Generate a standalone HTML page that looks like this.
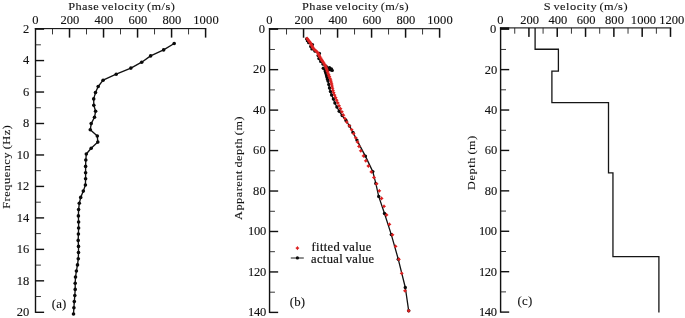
<!DOCTYPE html>
<html><head><meta charset="utf-8"><title>Phase velocity and S velocity profiles</title>
<style>html,body{margin:0;padding:0;background:#fff}svg{display:block}text{font-family:"Liberation Serif",serif;fill:#111}</style>
</head><body>
<svg width="685" height="318" viewBox="0 0 685 318">
<rect width="685" height="318" fill="#fff"/>
<rect x="34.80" y="28.05" width="1.40" height="284.85" fill="#111"/>
<rect x="34.80" y="28.05" width="171.50" height="1.10" fill="#111"/>
<rect x="52.06" y="28.60" width="0.90" height="5.80" fill="#222"/>
<rect x="68.77" y="28.60" width="1.50" height="9.00" fill="#111"/>
<rect x="86.08" y="28.60" width="0.90" height="5.80" fill="#222"/>
<rect x="102.79" y="28.60" width="1.50" height="9.00" fill="#111"/>
<rect x="120.10" y="28.60" width="0.90" height="5.80" fill="#222"/>
<rect x="136.81" y="28.60" width="1.50" height="9.00" fill="#111"/>
<rect x="154.12" y="28.60" width="0.90" height="5.80" fill="#222"/>
<rect x="170.83" y="28.60" width="1.50" height="9.00" fill="#111"/>
<rect x="188.14" y="28.60" width="0.90" height="5.80" fill="#222"/>
<rect x="204.85" y="28.60" width="1.50" height="9.00" fill="#111"/>
<rect x="35.50" y="28.05" width="8.6" height="1.75" fill="#111"/>
<rect x="35.50" y="44.38" width="5.40" height="0.90" fill="#222"/>
<rect x="35.50" y="59.87" width="8.60" height="1.40" fill="#111"/>
<rect x="35.50" y="75.85" width="5.40" height="0.90" fill="#222"/>
<rect x="35.50" y="91.33" width="8.60" height="1.40" fill="#111"/>
<rect x="35.50" y="107.32" width="5.40" height="0.90" fill="#222"/>
<rect x="35.50" y="122.80" width="8.60" height="1.40" fill="#111"/>
<rect x="35.50" y="138.78" width="5.40" height="0.90" fill="#222"/>
<rect x="35.50" y="154.27" width="8.60" height="1.40" fill="#111"/>
<rect x="35.50" y="170.25" width="5.40" height="0.90" fill="#222"/>
<rect x="35.50" y="185.73" width="8.60" height="1.40" fill="#111"/>
<rect x="35.50" y="201.72" width="5.40" height="0.90" fill="#222"/>
<rect x="35.50" y="217.20" width="8.60" height="1.40" fill="#111"/>
<rect x="35.50" y="233.18" width="5.40" height="0.90" fill="#222"/>
<rect x="35.50" y="248.67" width="8.60" height="1.40" fill="#111"/>
<rect x="35.50" y="264.65" width="5.40" height="0.90" fill="#222"/>
<rect x="35.50" y="280.13" width="8.60" height="1.40" fill="#111"/>
<rect x="35.50" y="296.12" width="5.40" height="0.90" fill="#222"/>
<rect x="35.50" y="311.60" width="8.60" height="1.40" fill="#111"/>
<text transform="translate(68.20 9.70) scale(1.09 1)" font-size="11.3" text-anchor="start" stroke="#111" stroke-width="0.1" textLength="97.80" lengthAdjust="spacing" word-spacing="-1.2">Phase velocity (m/s)</text>
<text transform="translate(32.15 23.70) scale(1.09 1)" font-size="11.5" text-anchor="start" stroke="#111" stroke-width="0.1">0</text>
<text transform="translate(60.47 23.70) scale(1.09 1)" font-size="11.5" text-anchor="start" stroke="#111" stroke-width="0.1" textLength="17.25" lengthAdjust="spacing">200</text>
<text transform="translate(94.49 23.70) scale(1.09 1)" font-size="11.5" text-anchor="start" stroke="#111" stroke-width="0.1" textLength="17.25" lengthAdjust="spacing">400</text>
<text transform="translate(128.51 23.70) scale(1.09 1)" font-size="11.5" text-anchor="start" stroke="#111" stroke-width="0.1" textLength="17.25" lengthAdjust="spacing">600</text>
<text transform="translate(162.53 23.70) scale(1.09 1)" font-size="11.5" text-anchor="start" stroke="#111" stroke-width="0.1" textLength="17.25" lengthAdjust="spacing">800</text>
<text transform="translate(193.15 23.70) scale(1.09 1)" font-size="11.5" text-anchor="start" stroke="#111" stroke-width="0.1" textLength="23.49" lengthAdjust="spacing">1000</text>
<text transform="translate(23.00 32.90) scale(1.09 1)" font-size="11.5" text-anchor="start" stroke="#111" stroke-width="0.1">2</text>
<text transform="translate(23.00 64.37) scale(1.09 1)" font-size="11.5" text-anchor="start" stroke="#111" stroke-width="0.1">4</text>
<text transform="translate(23.00 95.83) scale(1.09 1)" font-size="11.5" text-anchor="start" stroke="#111" stroke-width="0.1">6</text>
<text transform="translate(23.00 127.30) scale(1.09 1)" font-size="11.5" text-anchor="start" stroke="#111" stroke-width="0.1">8</text>
<text transform="translate(16.70 158.77) scale(1.09 1)" font-size="11.5" text-anchor="start" stroke="#111" stroke-width="0.1" textLength="11.56" lengthAdjust="spacing">10</text>
<text transform="translate(16.70 190.23) scale(1.09 1)" font-size="11.5" text-anchor="start" stroke="#111" stroke-width="0.1" textLength="11.56" lengthAdjust="spacing">12</text>
<text transform="translate(16.70 221.70) scale(1.09 1)" font-size="11.5" text-anchor="start" stroke="#111" stroke-width="0.1" textLength="11.56" lengthAdjust="spacing">14</text>
<text transform="translate(16.70 253.17) scale(1.09 1)" font-size="11.5" text-anchor="start" stroke="#111" stroke-width="0.1" textLength="11.56" lengthAdjust="spacing">16</text>
<text transform="translate(16.70 284.63) scale(1.09 1)" font-size="11.5" text-anchor="start" stroke="#111" stroke-width="0.1" textLength="11.56" lengthAdjust="spacing">18</text>
<text transform="translate(16.70 316.10) scale(1.09 1)" font-size="11.5" text-anchor="start" stroke="#111" stroke-width="0.1" textLength="11.56" lengthAdjust="spacing">20</text>
<text transform="translate(9.80 208.80) rotate(-90) scale(1.09 1)" font-size="11.2" text-anchor="start" stroke="#111" stroke-width="0.1" textLength="76.70" lengthAdjust="spacing" word-spacing="-1">Frequency (Hz)</text>
<text transform="translate(51.70 308.00) scale(1.09 1)" font-size="11.8" text-anchor="start" stroke="#111" stroke-width="0.1" textLength="13.39" lengthAdjust="spacing">(a)</text>
<polyline fill="none" stroke="#111" stroke-width="1.35" stroke-linejoin="round" points="174.2,43.5 163.6,49.9 150.6,55.9 141.7,62.2 130.9,68.1 116.2,74.2 103.1,80.2 98.2,86.5 95.5,92.6 93.7,98.9 93.8,105.2 95.6,111.3 94.5,117.3 91.2,123.6 90.3,129.7 97.3,136.0 97.8,142.1 91.2,148.2 86.3,154.0 85.8,160.0 85.6,166.4 85.6,172.7 85.6,178.7 85.4,185.0 83.3,191.1 80.7,197.4 79.3,203.3 78.6,209.6 78.4,215.9 78.6,222.0 78.6,228.0 78.4,234.1 78.2,240.4 78.5,246.4 78.5,252.5 78.3,258.7 77.5,264.9 76.4,271.0 75.5,277.1 75.2,283.2 75.2,289.4 74.8,295.5 74.3,301.6 73.9,307.8 73.5,314.0"/>
<circle cx="174.2" cy="43.5" r="1.8" fill="#0a0a0a"/>
<circle cx="163.6" cy="49.9" r="1.8" fill="#0a0a0a"/>
<circle cx="150.6" cy="55.9" r="1.8" fill="#0a0a0a"/>
<circle cx="141.7" cy="62.2" r="1.8" fill="#0a0a0a"/>
<circle cx="130.9" cy="68.1" r="1.8" fill="#0a0a0a"/>
<circle cx="116.2" cy="74.2" r="1.8" fill="#0a0a0a"/>
<circle cx="103.1" cy="80.2" r="1.8" fill="#0a0a0a"/>
<circle cx="98.2" cy="86.5" r="1.8" fill="#0a0a0a"/>
<circle cx="95.5" cy="92.6" r="1.8" fill="#0a0a0a"/>
<circle cx="93.7" cy="98.9" r="1.8" fill="#0a0a0a"/>
<circle cx="93.8" cy="105.2" r="1.8" fill="#0a0a0a"/>
<circle cx="95.6" cy="111.3" r="1.8" fill="#0a0a0a"/>
<circle cx="94.5" cy="117.3" r="1.8" fill="#0a0a0a"/>
<circle cx="91.2" cy="123.6" r="1.8" fill="#0a0a0a"/>
<circle cx="90.3" cy="129.7" r="1.8" fill="#0a0a0a"/>
<circle cx="97.3" cy="136.0" r="1.8" fill="#0a0a0a"/>
<circle cx="97.8" cy="142.1" r="1.8" fill="#0a0a0a"/>
<circle cx="91.2" cy="148.2" r="1.8" fill="#0a0a0a"/>
<circle cx="86.3" cy="154.0" r="1.8" fill="#0a0a0a"/>
<circle cx="85.8" cy="160.0" r="1.8" fill="#0a0a0a"/>
<circle cx="85.6" cy="166.4" r="1.8" fill="#0a0a0a"/>
<circle cx="85.6" cy="172.7" r="1.8" fill="#0a0a0a"/>
<circle cx="85.6" cy="178.7" r="1.8" fill="#0a0a0a"/>
<circle cx="85.4" cy="185.0" r="1.8" fill="#0a0a0a"/>
<circle cx="83.3" cy="191.1" r="1.8" fill="#0a0a0a"/>
<circle cx="80.7" cy="197.4" r="1.8" fill="#0a0a0a"/>
<circle cx="79.3" cy="203.3" r="1.8" fill="#0a0a0a"/>
<circle cx="78.6" cy="209.6" r="1.8" fill="#0a0a0a"/>
<circle cx="78.4" cy="215.9" r="1.8" fill="#0a0a0a"/>
<circle cx="78.6" cy="222.0" r="1.8" fill="#0a0a0a"/>
<circle cx="78.6" cy="228.0" r="1.8" fill="#0a0a0a"/>
<circle cx="78.4" cy="234.1" r="1.8" fill="#0a0a0a"/>
<circle cx="78.2" cy="240.4" r="1.8" fill="#0a0a0a"/>
<circle cx="78.5" cy="246.4" r="1.8" fill="#0a0a0a"/>
<circle cx="78.5" cy="252.5" r="1.8" fill="#0a0a0a"/>
<circle cx="78.3" cy="258.7" r="1.8" fill="#0a0a0a"/>
<circle cx="77.5" cy="264.9" r="1.8" fill="#0a0a0a"/>
<circle cx="76.4" cy="271.0" r="1.8" fill="#0a0a0a"/>
<circle cx="75.5" cy="277.1" r="1.8" fill="#0a0a0a"/>
<circle cx="75.2" cy="283.2" r="1.8" fill="#0a0a0a"/>
<circle cx="75.2" cy="289.4" r="1.8" fill="#0a0a0a"/>
<circle cx="74.8" cy="295.5" r="1.8" fill="#0a0a0a"/>
<circle cx="74.3" cy="301.6" r="1.8" fill="#0a0a0a"/>
<circle cx="73.9" cy="307.8" r="1.8" fill="#0a0a0a"/>
<circle cx="73.5" cy="314.0" r="1.8" fill="#0a0a0a"/>
<rect x="268.85" y="28.15" width="1.40" height="284.85" fill="#111"/>
<rect x="268.85" y="28.15" width="171.45" height="1.10" fill="#111"/>
<rect x="286.11" y="28.70" width="0.90" height="5.80" fill="#222"/>
<rect x="302.81" y="28.70" width="1.50" height="9.00" fill="#111"/>
<rect x="320.12" y="28.70" width="0.90" height="5.80" fill="#222"/>
<rect x="336.82" y="28.70" width="1.50" height="9.00" fill="#111"/>
<rect x="354.13" y="28.70" width="0.90" height="5.80" fill="#222"/>
<rect x="370.83" y="28.70" width="1.50" height="9.00" fill="#111"/>
<rect x="388.14" y="28.70" width="0.90" height="5.80" fill="#222"/>
<rect x="404.84" y="28.70" width="1.50" height="9.00" fill="#111"/>
<rect x="422.15" y="28.70" width="0.90" height="5.80" fill="#222"/>
<rect x="438.85" y="28.70" width="1.50" height="9.00" fill="#111"/>
<rect x="269.55" y="28.15" width="8.6" height="1.75" fill="#111"/>
<rect x="269.55" y="48.98" width="5.40" height="0.90" fill="#222"/>
<rect x="269.55" y="68.96" width="8.60" height="1.40" fill="#111"/>
<rect x="269.55" y="89.44" width="5.40" height="0.90" fill="#222"/>
<rect x="269.55" y="109.41" width="8.60" height="1.40" fill="#111"/>
<rect x="269.55" y="129.89" width="5.40" height="0.90" fill="#222"/>
<rect x="269.55" y="149.87" width="8.60" height="1.40" fill="#111"/>
<rect x="269.55" y="170.35" width="5.40" height="0.90" fill="#222"/>
<rect x="269.55" y="190.33" width="8.60" height="1.40" fill="#111"/>
<rect x="269.55" y="210.81" width="5.40" height="0.90" fill="#222"/>
<rect x="269.55" y="230.79" width="8.60" height="1.40" fill="#111"/>
<rect x="269.55" y="251.26" width="5.40" height="0.90" fill="#222"/>
<rect x="269.55" y="271.24" width="8.60" height="1.40" fill="#111"/>
<rect x="269.55" y="291.72" width="5.40" height="0.90" fill="#222"/>
<rect x="269.55" y="311.70" width="8.60" height="1.40" fill="#111"/>
<text transform="translate(302.00 9.70) scale(1.09 1)" font-size="11.3" text-anchor="start" stroke="#111" stroke-width="0.1" textLength="97.80" lengthAdjust="spacing" word-spacing="-1.2">Phase velocity (m/s)</text>
<text transform="translate(266.20 23.80) scale(1.09 1)" font-size="11.5" text-anchor="start" stroke="#111" stroke-width="0.1">0</text>
<text transform="translate(294.51 23.80) scale(1.09 1)" font-size="11.5" text-anchor="start" stroke="#111" stroke-width="0.1" textLength="17.25" lengthAdjust="spacing">200</text>
<text transform="translate(328.52 23.80) scale(1.09 1)" font-size="11.5" text-anchor="start" stroke="#111" stroke-width="0.1" textLength="17.25" lengthAdjust="spacing">400</text>
<text transform="translate(362.53 23.80) scale(1.09 1)" font-size="11.5" text-anchor="start" stroke="#111" stroke-width="0.1" textLength="17.25" lengthAdjust="spacing">600</text>
<text transform="translate(396.54 23.80) scale(1.09 1)" font-size="11.5" text-anchor="start" stroke="#111" stroke-width="0.1" textLength="17.25" lengthAdjust="spacing">800</text>
<text transform="translate(427.15 23.80) scale(1.09 1)" font-size="11.5" text-anchor="start" stroke="#111" stroke-width="0.1" textLength="23.49" lengthAdjust="spacing">1000</text>
<text transform="translate(258.80 33.00) scale(1.09 1)" font-size="11.5" text-anchor="start" stroke="#111" stroke-width="0.1">0</text>
<text transform="translate(253.00 73.46) scale(1.09 1)" font-size="11.5" text-anchor="start" stroke="#111" stroke-width="0.1" textLength="11.83" lengthAdjust="spacing">20</text>
<text transform="translate(253.00 113.91) scale(1.09 1)" font-size="11.5" text-anchor="start" stroke="#111" stroke-width="0.1" textLength="11.83" lengthAdjust="spacing">40</text>
<text transform="translate(253.00 154.37) scale(1.09 1)" font-size="11.5" text-anchor="start" stroke="#111" stroke-width="0.1" textLength="11.83" lengthAdjust="spacing">60</text>
<text transform="translate(253.00 194.83) scale(1.09 1)" font-size="11.5" text-anchor="start" stroke="#111" stroke-width="0.1" textLength="11.83" lengthAdjust="spacing">80</text>
<text transform="translate(248.10 235.29) scale(1.09 1)" font-size="11.5" text-anchor="start" stroke="#111" stroke-width="0.1" textLength="16.61" lengthAdjust="spacing">100</text>
<text transform="translate(248.10 275.74) scale(1.09 1)" font-size="11.5" text-anchor="start" stroke="#111" stroke-width="0.1" textLength="16.61" lengthAdjust="spacing">120</text>
<text transform="translate(248.10 316.20) scale(1.09 1)" font-size="11.5" text-anchor="start" stroke="#111" stroke-width="0.1" textLength="16.61" lengthAdjust="spacing">140</text>
<text transform="translate(241.80 219.90) rotate(-90) scale(1.09 1)" font-size="11.2" text-anchor="start" stroke="#111" stroke-width="0.1" textLength="94.86" lengthAdjust="spacing" word-spacing="-1">Apparent depth (m)</text>
<text transform="translate(289.70 305.80) scale(1.09 1)" font-size="11.8" text-anchor="start" stroke="#111" stroke-width="0.1" textLength="14.13" lengthAdjust="spacing">(b)</text>
<text transform="translate(311.60 251.30) scale(1.09 1)" font-size="11.5" text-anchor="start" stroke="#111" stroke-width="0.2" textLength="54.68" lengthAdjust="spacing" word-spacing="-0.8">fitted value</text>
<text transform="translate(311.00 262.70) scale(1.09 1)" font-size="11.5" text-anchor="start" stroke="#111" stroke-width="0.2" textLength="57.98" lengthAdjust="spacing" word-spacing="-0.8">actual value</text>
<rect x="290.80" y="257.48" width="13.00" height="1.05" fill="#2a2a2a"/>
<circle cx="297.4" cy="257.9" r="1.6" fill="#0a0a0a"/>
<polyline fill="none" stroke="#111" stroke-width="1.3" stroke-linejoin="round" points="306.5,38.8 307.3,40.8 308.6,42.8 312.5,44.6 310.6,46.4 311.8,49.0 315.0,51.2 319.5,53.4 318.0,55.5 318.8,58.6 320.6,61.5 323.0,64.2 326.0,66.3 329.5,67.8 331.4,69.0 332.2,70.4 328.5,69.3 323.3,68.3 325.2,71.0 326.2,74.0 327.1,77.5 328.0,81.0 328.8,84.5 329.5,88.0 330.5,91.5 331.6,95.0 333.4,99.0 334.9,103.0 336.9,107.0 339.2,111.3 342.2,115.5 346.0,120.5 349.5,126.0 353.0,132.5 356.9,140.1 365.4,156.1 372.8,171.6 375.8,183.4 378.7,196.4 384.5,213.5 391.3,234.6 398.3,259.3 405.3,287.5 408.7,310.8"/>
<circle cx="306.5" cy="38.8" r="1.55" fill="#0a0a0a"/>
<circle cx="307.3" cy="40.8" r="1.55" fill="#0a0a0a"/>
<circle cx="308.6" cy="42.8" r="1.55" fill="#0a0a0a"/>
<circle cx="312.5" cy="44.6" r="1.55" fill="#0a0a0a"/>
<circle cx="310.6" cy="46.4" r="1.55" fill="#0a0a0a"/>
<circle cx="311.8" cy="49.0" r="1.55" fill="#0a0a0a"/>
<circle cx="315.0" cy="51.2" r="1.55" fill="#0a0a0a"/>
<circle cx="319.5" cy="53.4" r="1.55" fill="#0a0a0a"/>
<circle cx="318.0" cy="55.5" r="1.55" fill="#0a0a0a"/>
<circle cx="318.8" cy="58.6" r="1.55" fill="#0a0a0a"/>
<circle cx="320.6" cy="61.5" r="1.55" fill="#0a0a0a"/>
<circle cx="323.0" cy="64.2" r="1.55" fill="#0a0a0a"/>
<circle cx="326.0" cy="66.3" r="1.7" fill="#0a0a0a"/>
<circle cx="329.5" cy="67.8" r="1.7" fill="#0a0a0a"/>
<circle cx="331.4" cy="69.0" r="1.7" fill="#0a0a0a"/>
<circle cx="332.2" cy="70.4" r="1.7" fill="#0a0a0a"/>
<circle cx="330.4" cy="69.8" r="1.7" fill="#0a0a0a"/>
<circle cx="328.5" cy="69.3" r="1.7" fill="#0a0a0a"/>
<circle cx="323.3" cy="68.3" r="1.7" fill="#0a0a0a"/>
<circle cx="325.2" cy="71.0" r="1.7" fill="#0a0a0a"/>
<circle cx="325.7" cy="72.5" r="1.7" fill="#0a0a0a"/>
<circle cx="326.2" cy="74.0" r="1.7" fill="#0a0a0a"/>
<circle cx="326.6" cy="75.8" r="1.7" fill="#0a0a0a"/>
<circle cx="327.1" cy="77.5" r="1.7" fill="#0a0a0a"/>
<circle cx="327.6" cy="79.2" r="1.7" fill="#0a0a0a"/>
<circle cx="328.0" cy="81.0" r="1.7" fill="#0a0a0a"/>
<circle cx="328.8" cy="84.5" r="1.7" fill="#0a0a0a"/>
<circle cx="329.5" cy="88.0" r="1.7" fill="#0a0a0a"/>
<circle cx="330.5" cy="91.5" r="1.7" fill="#0a0a0a"/>
<circle cx="331.6" cy="95.0" r="1.7" fill="#0a0a0a"/>
<circle cx="333.4" cy="99.0" r="1.7" fill="#0a0a0a"/>
<circle cx="334.9" cy="103.0" r="1.7" fill="#0a0a0a"/>
<circle cx="336.9" cy="107.0" r="1.7" fill="#0a0a0a"/>
<circle cx="339.2" cy="111.3" r="1.7" fill="#0a0a0a"/>
<circle cx="342.2" cy="115.5" r="1.7" fill="#0a0a0a"/>
<circle cx="346.0" cy="120.5" r="1.7" fill="#0a0a0a"/>
<circle cx="349.5" cy="126.0" r="1.7" fill="#0a0a0a"/>
<circle cx="353.0" cy="132.5" r="1.7" fill="#0a0a0a"/>
<circle cx="356.9" cy="140.1" r="1.7" fill="#0a0a0a"/>
<circle cx="365.4" cy="156.1" r="1.7" fill="#0a0a0a"/>
<circle cx="372.8" cy="171.6" r="1.7" fill="#0a0a0a"/>
<circle cx="375.8" cy="183.4" r="1.7" fill="#0a0a0a"/>
<circle cx="378.7" cy="196.4" r="1.7" fill="#0a0a0a"/>
<circle cx="384.5" cy="213.5" r="1.7" fill="#0a0a0a"/>
<circle cx="391.3" cy="234.6" r="1.7" fill="#0a0a0a"/>
<circle cx="398.3" cy="259.3" r="1.7" fill="#0a0a0a"/>
<circle cx="405.3" cy="287.5" r="1.7" fill="#0a0a0a"/>
<circle cx="408.7" cy="310.8" r="1.7" fill="#0a0a0a"/>
<path fill="#dd2020" stroke="none" d="M356.95 146.40L358.10 145.50L359.00 144.35L359.90 145.50L361.05 146.40L359.90 147.30L359.00 148.45L358.10 147.30ZM358.75 150.80L359.90 149.90L360.80 148.75L361.70 149.90L362.85 150.80L361.70 151.70L360.80 152.85L359.90 151.70ZM361.45 155.90L362.60 155.00L363.50 153.85L364.40 155.00L365.55 155.90L364.40 156.80L363.50 157.95L362.60 156.80ZM363.75 160.80L364.90 159.90L365.80 158.75L366.70 159.90L367.85 160.80L366.70 161.70L365.80 162.85L364.90 161.70ZM366.35 166.00L367.50 165.10L368.40 163.95L369.30 165.10L370.45 166.00L369.30 166.90L368.40 168.05L367.50 166.90ZM369.25 171.90L370.40 171.00L371.30 169.85L372.20 171.00L373.35 171.90L372.20 172.80L371.30 173.95L370.40 172.80ZM371.95 177.50L373.10 176.60L374.00 175.45L374.90 176.60L376.05 177.50L374.90 178.40L374.00 179.55L373.10 178.40ZM374.55 183.80L375.70 182.90L376.60 181.75L377.50 182.90L378.65 183.80L377.50 184.70L376.60 185.85L375.70 184.70ZM377.25 190.80L378.40 189.90L379.30 188.75L380.20 189.90L381.35 190.80L380.20 191.70L379.30 192.85L378.40 191.70ZM379.55 198.40L380.70 197.50L381.60 196.35L382.50 197.50L383.65 198.40L382.50 199.30L381.60 200.45L380.70 199.30ZM381.95 206.30L383.10 205.40L384.00 204.25L384.90 205.40L386.05 206.30L384.90 207.20L384.00 208.35L383.10 207.20ZM384.55 214.90L385.70 214.00L386.60 212.85L387.50 214.00L388.65 214.90L387.50 215.80L386.60 216.95L385.70 215.80ZM387.35 224.30L388.50 223.40L389.40 222.25L390.30 223.40L391.45 224.30L390.30 225.20L389.40 226.35L388.50 225.20ZM390.45 234.80L391.60 233.90L392.50 232.75L393.40 233.90L394.55 234.80L393.40 235.70L392.50 236.85L391.60 235.70ZM393.55 246.30L394.70 245.40L395.60 244.25L396.50 245.40L397.65 246.30L396.50 247.20L395.60 248.35L394.70 247.20ZM396.85 259.30L398.00 258.40L398.90 257.25L399.80 258.40L400.95 259.30L399.80 260.20L398.90 261.35L398.00 260.20ZM399.65 273.30L400.80 272.40L401.70 271.25L402.60 272.40L403.75 273.30L402.60 274.20L401.70 275.35L400.80 274.20ZM402.95 290.80L404.10 289.90L405.00 288.75L405.90 289.90L407.05 290.80L405.90 291.70L405.00 292.85L404.10 291.70ZM406.65 310.80L407.80 309.90L408.70 308.75L409.60 309.90L410.75 310.80L409.60 311.70L408.70 312.85L407.80 311.70ZM355.50 142.04L356.65 141.14L357.55 139.99L358.45 141.14L359.60 142.04L358.45 142.94L357.55 144.09L356.65 142.94ZM353.69 137.81L354.84 136.91L355.74 135.76L356.64 136.91L357.79 137.81L356.64 138.71L355.74 139.86L354.84 138.71ZM351.60 133.69L352.75 132.79L353.65 131.64L354.55 132.79L355.70 133.69L354.55 134.59L353.65 135.74L352.75 134.59ZM349.56 129.69L350.71 128.79L351.61 127.64L352.51 128.79L353.66 129.69L352.51 130.59L351.61 131.74L350.71 130.59ZM347.32 125.80L348.47 124.90L349.37 123.75L350.27 124.90L351.42 125.80L350.27 126.70L349.37 127.85L348.47 126.70ZM344.76 122.09L345.91 121.19L346.81 120.04L347.71 121.19L348.86 122.09L347.71 122.99L346.81 124.14L345.91 122.99ZM342.91 118.53L344.06 117.63L344.96 116.48L345.86 117.63L347.01 118.53L345.86 119.43L344.96 120.58L344.06 119.43ZM341.34 115.13L342.49 114.23L343.39 113.08L344.29 114.23L345.44 115.13L344.29 116.03L343.39 117.18L342.49 116.03ZM339.83 111.87L340.98 110.97L341.88 109.82L342.78 110.97L343.93 111.87L342.78 112.77L341.88 113.92L340.98 112.77ZM338.39 108.76L339.54 107.86L340.44 106.71L341.34 107.86L342.49 108.76L341.34 109.66L340.44 110.81L339.54 109.66ZM337.01 105.78L338.16 104.88L339.06 103.73L339.96 104.88L341.11 105.78L339.96 106.68L339.06 107.83L338.16 106.68ZM335.73 102.93L336.88 102.03L337.78 100.88L338.68 102.03L339.83 102.93L338.68 103.83L337.78 104.98L336.88 103.83ZM334.60 100.20L335.75 99.30L336.65 98.15L337.55 99.30L338.70 100.20L337.55 101.10L336.65 102.25L335.75 101.10ZM333.52 97.59L334.67 96.69L335.57 95.54L336.47 96.69L337.62 97.59L336.47 98.49L335.57 99.64L334.67 98.49ZM332.48 95.09L333.63 94.19L334.53 93.04L335.43 94.19L336.58 95.09L335.43 95.99L334.53 97.14L333.63 95.99ZM331.58 92.68L332.73 91.78L333.63 90.63L334.53 91.78L335.68 92.68L334.53 93.58L333.63 94.73L332.73 93.58ZM330.88 90.38L332.03 89.48L332.93 88.33L333.83 89.48L334.98 90.38L333.83 91.28L332.93 92.43L332.03 91.28ZM330.41 88.16L331.56 87.26L332.46 86.11L333.36 87.26L334.51 88.16L333.36 89.06L332.46 90.21L331.56 89.06ZM329.97 86.03L331.12 85.13L332.02 83.98L332.92 85.13L334.07 86.03L332.92 86.93L332.02 88.08L331.12 86.93ZM329.54 83.99L330.69 83.09L331.59 81.94L332.49 83.09L333.64 83.99L332.49 84.89L331.59 86.04L330.69 84.89ZM329.13 82.03L330.28 81.13L331.18 79.98L332.08 81.13L333.23 82.03L332.08 82.93L331.18 84.08L330.28 82.93ZM328.63 80.12L329.78 79.22L330.68 78.07L331.58 79.22L332.73 80.12L331.58 81.02L330.68 82.17L329.78 81.02ZM327.92 78.28L329.07 77.38L329.97 76.23L330.87 77.38L332.02 78.28L330.87 79.18L329.97 80.33L329.07 79.18ZM327.23 76.49L328.38 75.59L329.28 74.44L330.18 75.59L331.33 76.49L330.18 77.39L329.28 78.54L328.38 77.39ZM326.56 74.76L327.71 73.86L328.61 72.71L329.51 73.86L330.66 74.76L329.51 75.66L328.61 76.81L327.71 75.66ZM325.94 73.09L327.09 72.19L327.99 71.04L328.89 72.19L330.04 73.09L328.89 73.99L327.99 75.14L327.09 73.99ZM325.38 71.47L326.53 70.57L327.43 69.42L328.33 70.57L329.48 71.47L328.33 72.37L327.43 73.52L326.53 72.37ZM324.83 69.91L325.98 69.01L326.88 67.86L327.78 69.01L328.93 69.91L327.78 70.81L326.88 71.96L325.98 70.81ZM324.31 68.39L325.46 67.49L326.36 66.34L327.26 67.49L328.41 68.39L327.26 69.29L326.36 70.44L325.46 69.29ZM323.80 66.92L324.95 66.02L325.85 64.87L326.75 66.02L327.90 66.92L326.75 67.82L325.85 68.97L324.95 67.82ZM323.12 65.50L324.27 64.60L325.17 63.45L326.07 64.60L327.22 65.50L326.07 66.40L325.17 67.55L324.27 66.40ZM322.27 64.12L323.42 63.22L324.32 62.07L325.22 63.22L326.37 64.12L325.22 65.02L324.32 66.17L323.42 65.02ZM321.45 62.79L322.60 61.89L323.50 60.74L324.40 61.89L325.55 62.79L324.40 63.69L323.50 64.84L322.60 63.69ZM320.65 61.50L321.80 60.60L322.70 59.45L323.60 60.60L324.75 61.50L323.60 62.40L322.70 63.55L321.80 62.40ZM319.86 60.25L321.01 59.35L321.91 58.20L322.81 59.35L323.96 60.25L322.81 61.15L321.91 62.30L321.01 61.15ZM319.10 59.05L320.25 58.15L321.15 57.00L322.05 58.15L323.20 59.05L322.05 59.95L321.15 61.10L320.25 59.95ZM318.36 57.87L319.51 56.97L320.41 55.82L321.31 56.97L322.46 57.87L321.31 58.77L320.41 59.92L319.51 58.77ZM317.66 56.72L318.81 55.82L319.71 54.67L320.61 55.82L321.76 56.72L320.61 57.62L319.71 58.77L318.81 57.62ZM317.11 55.59L318.26 54.69L319.16 53.54L320.06 54.69L321.21 55.59L320.06 56.49L319.16 57.64L318.26 56.49ZM316.57 54.49L317.72 53.59L318.62 52.44L319.52 53.59L320.67 54.49L319.52 55.39L318.62 56.54L317.72 55.39ZM316.04 53.42L317.19 52.52L318.09 51.37L318.99 52.52L320.14 53.42L318.99 54.32L318.09 55.47L317.19 54.32ZM315.53 52.37L316.68 51.47L317.58 50.32L318.48 51.47L319.63 52.37L318.48 53.27L317.58 54.42L316.68 53.27ZM314.44 51.34L315.59 50.44L316.49 49.29L317.39 50.44L318.54 51.34L317.39 52.24L316.49 53.39L315.59 52.24ZM313.27 50.34L314.42 49.44L315.32 48.29L316.22 49.44L317.37 50.34L316.22 51.24L315.32 52.39L314.42 51.24ZM312.12 49.36L313.27 48.46L314.17 47.31L315.07 48.46L316.22 49.36L315.07 50.26L314.17 51.41L313.27 50.26ZM311.19 48.40L312.34 47.50L313.24 46.35L314.14 47.50L315.29 48.40L314.14 49.30L313.24 50.45L312.34 49.30ZM310.71 47.46L311.86 46.56L312.76 45.41L313.66 46.56L314.81 47.46L313.66 48.36L312.76 49.51L311.86 48.36ZM310.24 46.55L311.39 45.65L312.29 44.50L313.19 45.65L314.34 46.55L313.19 47.45L312.29 48.60L311.39 47.45ZM309.77 45.65L310.92 44.75L311.82 43.60L312.72 44.75L313.87 45.65L312.72 46.55L311.82 47.70L310.92 46.55ZM309.32 44.78L310.47 43.88L311.37 42.73L312.27 43.88L313.42 44.78L312.27 45.68L311.37 46.83L310.47 45.68ZM308.88 43.92L310.03 43.02L310.93 41.87L311.83 43.02L312.98 43.92L311.83 44.82L310.93 45.97L310.03 44.82ZM308.45 43.09L309.60 42.19L310.50 41.04L311.40 42.19L312.55 43.09L311.40 43.99L310.50 45.14L309.60 43.99ZM307.88 42.27L309.03 41.37L309.93 40.22L310.83 41.37L311.98 42.27L310.83 43.17L309.93 44.32L309.03 43.17ZM307.29 41.48L308.44 40.58L309.34 39.43L310.24 40.58L311.39 41.48L310.24 42.38L309.34 43.53L308.44 42.38ZM306.71 40.70L307.86 39.80L308.76 38.65L309.66 39.80L310.81 40.70L309.66 41.60L308.76 42.75L307.86 41.60ZM306.14 39.94L307.29 39.04L308.19 37.89L309.09 39.04L310.24 39.94L309.09 40.84L308.19 41.99L307.29 40.84ZM305.59 39.19L306.74 38.29L307.64 37.14L308.54 38.29L309.69 39.19L308.54 40.09L307.64 41.24L306.74 40.09ZM305.05 38.46L306.20 37.56L307.10 36.41L308.00 37.56L309.15 38.46L308.00 39.36L307.10 40.51L306.20 39.36Z"/>
<path fill="#dd2020" stroke="none" d="M295.35 248.10L296.50 247.20L297.40 246.05L298.30 247.20L299.45 248.10L298.30 249.00L297.40 250.15L296.50 249.00Z"/>
<rect x="499.90" y="27.35" width="1.40" height="285.35" fill="#111"/>
<rect x="499.90" y="27.35" width="171.30" height="1.10" fill="#111"/>
<rect x="514.31" y="27.90" width="0.90" height="5.80" fill="#222"/>
<rect x="528.17" y="27.90" width="1.50" height="9.00" fill="#111"/>
<rect x="542.62" y="27.90" width="0.90" height="5.80" fill="#222"/>
<rect x="556.48" y="27.90" width="1.50" height="9.00" fill="#111"/>
<rect x="570.94" y="27.90" width="0.90" height="5.80" fill="#222"/>
<rect x="584.80" y="27.90" width="1.50" height="9.00" fill="#111"/>
<rect x="599.26" y="27.90" width="0.90" height="5.80" fill="#222"/>
<rect x="613.12" y="27.90" width="1.50" height="9.00" fill="#111"/>
<rect x="627.57" y="27.90" width="0.90" height="5.80" fill="#222"/>
<rect x="641.43" y="27.90" width="1.50" height="9.00" fill="#111"/>
<rect x="655.89" y="27.90" width="0.90" height="5.80" fill="#222"/>
<rect x="669.75" y="27.90" width="1.50" height="9.00" fill="#111"/>
<rect x="500.60" y="27.35" width="8.6" height="2.55" fill="#111"/>
<rect x="500.60" y="48.96" width="5.40" height="0.90" fill="#222"/>
<rect x="500.60" y="68.91" width="8.60" height="1.40" fill="#111"/>
<rect x="500.60" y="89.37" width="5.40" height="0.90" fill="#222"/>
<rect x="500.60" y="109.33" width="8.60" height="1.40" fill="#111"/>
<rect x="500.60" y="129.79" width="5.40" height="0.90" fill="#222"/>
<rect x="500.60" y="149.74" width="8.60" height="1.40" fill="#111"/>
<rect x="500.60" y="170.20" width="5.40" height="0.90" fill="#222"/>
<rect x="500.60" y="190.16" width="8.60" height="1.40" fill="#111"/>
<rect x="500.60" y="210.61" width="5.40" height="0.90" fill="#222"/>
<rect x="500.60" y="230.57" width="8.60" height="1.40" fill="#111"/>
<rect x="500.60" y="251.03" width="5.40" height="0.90" fill="#222"/>
<rect x="500.60" y="270.99" width="8.60" height="1.40" fill="#111"/>
<rect x="500.60" y="291.44" width="5.40" height="0.90" fill="#222"/>
<rect x="500.60" y="311.40" width="8.60" height="1.40" fill="#111"/>
<text transform="translate(543.80 9.70) scale(1.09 1)" font-size="11.3" text-anchor="start" stroke="#111" stroke-width="0.1" textLength="76.79" lengthAdjust="spacing" word-spacing="-1.2">S velocity (m/s)</text>
<text transform="translate(497.25 23.70) scale(1.09 1)" font-size="11.5" text-anchor="start" stroke="#111" stroke-width="0.1">0</text>
<text transform="translate(520.17 23.70) scale(1.09 1)" font-size="11.5" text-anchor="start" stroke="#111" stroke-width="0.1" textLength="17.25" lengthAdjust="spacing">200</text>
<text transform="translate(548.48 23.70) scale(1.09 1)" font-size="11.5" text-anchor="start" stroke="#111" stroke-width="0.1" textLength="17.25" lengthAdjust="spacing">400</text>
<text transform="translate(576.80 23.70) scale(1.09 1)" font-size="11.5" text-anchor="start" stroke="#111" stroke-width="0.1" textLength="17.25" lengthAdjust="spacing">600</text>
<text transform="translate(605.12 23.70) scale(1.09 1)" font-size="11.5" text-anchor="start" stroke="#111" stroke-width="0.1" textLength="17.25" lengthAdjust="spacing">800</text>
<text transform="translate(630.80 23.70) scale(1.09 1)" font-size="11.5" text-anchor="start" stroke="#111" stroke-width="0.1" textLength="23.21" lengthAdjust="spacing">1000</text>
<text transform="translate(659.30 23.70) scale(1.09 1)" font-size="11.5" text-anchor="start" stroke="#111" stroke-width="0.1" textLength="22.84" lengthAdjust="spacing">1200</text>
<text transform="translate(489.90 33.10) scale(1.09 1)" font-size="11.5" text-anchor="start" stroke="#111" stroke-width="0.1">0</text>
<text transform="translate(484.80 73.51) scale(1.09 1)" font-size="11.5" text-anchor="start" stroke="#111" stroke-width="0.1" textLength="11.47" lengthAdjust="spacing">20</text>
<text transform="translate(484.80 113.93) scale(1.09 1)" font-size="11.5" text-anchor="start" stroke="#111" stroke-width="0.1" textLength="11.47" lengthAdjust="spacing">40</text>
<text transform="translate(484.80 154.34) scale(1.09 1)" font-size="11.5" text-anchor="start" stroke="#111" stroke-width="0.1" textLength="11.47" lengthAdjust="spacing">60</text>
<text transform="translate(484.80 194.76) scale(1.09 1)" font-size="11.5" text-anchor="start" stroke="#111" stroke-width="0.1" textLength="11.47" lengthAdjust="spacing">80</text>
<text transform="translate(479.00 235.17) scale(1.09 1)" font-size="11.5" text-anchor="start" stroke="#111" stroke-width="0.1" textLength="16.42" lengthAdjust="spacing">100</text>
<text transform="translate(479.00 275.59) scale(1.09 1)" font-size="11.5" text-anchor="start" stroke="#111" stroke-width="0.1" textLength="16.42" lengthAdjust="spacing">120</text>
<text transform="translate(479.00 316.00) scale(1.09 1)" font-size="11.5" text-anchor="start" stroke="#111" stroke-width="0.1" textLength="16.42" lengthAdjust="spacing">140</text>
<text transform="translate(474.70 190.00) rotate(-90) scale(1.09 1)" font-size="11.2" text-anchor="start" stroke="#111" stroke-width="0.1" textLength="49.82" lengthAdjust="spacing" word-spacing="-1">Depth (m)</text>
<text transform="translate(517.50 304.80) scale(1.09 1)" font-size="11.8" text-anchor="start" stroke="#111" stroke-width="0.1" textLength="13.67" lengthAdjust="spacing">(c)</text>
<polyline fill="none" stroke="#151515" stroke-width="1.3" stroke-linejoin="miter" points="535.10,27.90 535.10,49.25 558.40,49.25 558.40,71.05 551.90,71.05 551.90,102.55 608.50,102.55 608.50,172.85 612.95,172.85 612.95,256.70 658.90,256.70 658.90,312.40"/>
</svg>
</body></html>
